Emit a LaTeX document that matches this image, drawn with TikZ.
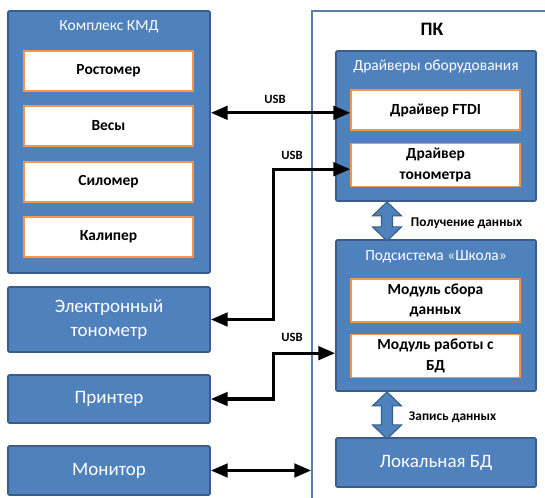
\documentclass[tikz,border=0pt]{standalone}
\usepackage{fontspec}
\setmainfont{Carlito}
\usepackage{tikz}
\usetikzlibrary{arrows.meta,positioning,calc}
\definecolor{boxblue}{HTML}{4F81BD}
\definecolor{boxedge}{HTML}{385D8A}
\definecolor{pcedge}{HTML}{5A7FAF}
\definecolor{devorange}{HTML}{F79646}
\tikzset{
  groupbox/.style={draw=boxedge, line width=1.3pt, fill=boxblue, rounded corners=1pt, minimum width=5.05cm},
  grouptitle/.style={text=white, font=\fontsize{11}{12}\selectfont},
  devbox/.style={draw=boxedge, line width=1.3pt, fill=boxblue, rounded corners=1pt, minimum width=5.05cm, align=center, text=white, font=\fontsize{13.5}{17.5}\selectfont},
  modbox/.style={draw=devorange, line width=1.1pt, fill=white, minimum width=4.225cm, minimum height=1.0cm, align=center, font=\bfseries\fontsize{11}{14.5}\selectfont},
  pcframe/.style={draw=pcedge, line width=1.3pt, fill=white, minimum width=6.325cm, minimum height=12.725cm},
  busarrow/.style={{Triangle[length=4.2mm,width=3.4mm]}-{Triangle[length=4.2mm,width=3.4mm]}, line width=2.2pt},
  datapipe/.style={draw=boxedge, fill=boxblue, line width=0.8pt},
  usblabel/.style={font=\bfseries\fontsize{9}{10}\selectfont},
  pipelabel/.style={anchor=west, font=\bfseries\fontsize{9.5}{11}\selectfont}
}
\begin{document}
\begin{tikzpicture}[x=1cm,y=1cm]
  \useasboundingbox (0,0) rectangle (13.625,-12.45);
  \clip (0,0) rectangle (13.625,-12.45);
  \fill[white] (0,0) rectangle (13.625,-12.45);

  % devices on the left
  \node[groupbox, minimum height=6.55cm] (kmd) at (2.725,-3.55) {};
  \node[grouptitle] (kmdt) at (2.725,-0.675) {Комплекс КМД};
  \node[modbox] (height) at (2.7125,-1.775) {Ростомер};
  \node[modbox] (scale) at (2.7125,-3.15) {Весы};
  \node[modbox] (force) at (2.7125,-4.55) {Силомер};
  \node[modbox] (calip) at (2.7125,-5.925) {Калипер};

  \node[devbox, minimum height=1.625cm] (tono) at (2.725,-7.9875) {Электронный\\тонометр};
  \node[devbox, minimum height=1.2cm] (printer) at (2.725,-9.975) {Принтер};
  \node[devbox, minimum height=1.225cm] (monitor) at (2.725,-11.7625) {Монитор};

  % PC
  \node[pcframe] (pc) at (10.9625,-6.6375) {};
  \node[font=\bfseries\fontsize{13.5}{15}\selectfont] (pct) at (10.8,-0.725) {ПК};

  \node[groupbox, minimum width=5.0cm, minimum height=3.75cm] (drivers) at (10.9,-3.15) {};
  \node[grouptitle] (drvt) at (10.9,-1.675) {Драйверы оборудования};
  \node[modbox] (ftdi) at (10.8875,-2.75) {Драйвер FTDI};
  \node[modbox] (tdrv) at (10.8875,-4.125) {Драйвер\\тонометра};

  \node[groupbox, minimum width=5.0cm, minimum height=3.775cm] (school) at (10.9,-7.8875) {};
  \node[grouptitle] (scht) at (10.9,-6.425) {Подсистема «Школа»};
  \node[modbox, minimum height=1.025cm] (collect) at (10.8875,-7.5125) {Модуль сбора\\данных};
  \node[modbox, minimum height=1.05cm] (dbmod) at (10.8875,-8.9) {Модуль работы с\\БД};

  \node[devbox, minimum width=5.0cm, minimum height=1.225cm] (localdb) at (10.9,-11.5625) {Локальная БД};

  % data flow inside the PC
  \coordinate (get) at (9.675,0 |- drivers.south);
  \draw[datapipe] (get) -- ++(0.3625,-0.35) -- ++(-0.225,0) -- ++(0,-0.275) -- ++(0.225,0)
    -- ++(-0.3625,-0.35) -- ++(-0.3625,0.35) -- ++(0.225,0) -- ++(0,0.275) -- ++(-0.225,0) -- cycle;
  \node[pipelabel] (getl) at (10.15,-5.575) {Получение данных};
  \coordinate (put) at (9.675,0 |- school.south);
  \draw[datapipe] (put) -- ++(0.3625,-0.35) -- ++(-0.225,0) -- ++(0,-0.475) -- ++(0.225,0)
    -- ++(-0.3625,-0.35) -- ++(-0.3625,0.35) -- ++(0.225,0) -- ++(0,0.475) -- ++(-0.225,0) -- cycle;
  \node[pipelabel] (putl) at (10.1,-10.425) {Запись данных};

  % connections
  \draw[busarrow] ([yshift=-2pt]ftdi.west -| kmd.east) -- ([yshift=-2pt]ftdi.west);
  \node[usblabel] (usb1) at (6.875,-2.475) {USB};
  \draw[busarrow] (tono.east) -- ++(1.575,0) |- ([yshift=-3pt]tdrv.west);
  \node[usblabel] (usb2) at (7.3,-3.875) {USB};
  \draw[busarrow] (printer.east) -- ++(1.575,0) |- ([yshift=2pt]school.west |- dbmod.west);
  \node[usblabel] (usb3) at (7.3,-8.425) {USB};
  \draw[busarrow] (monitor.east) -- (monitor.east -| pc.west);
\end{tikzpicture}
\end{document}
